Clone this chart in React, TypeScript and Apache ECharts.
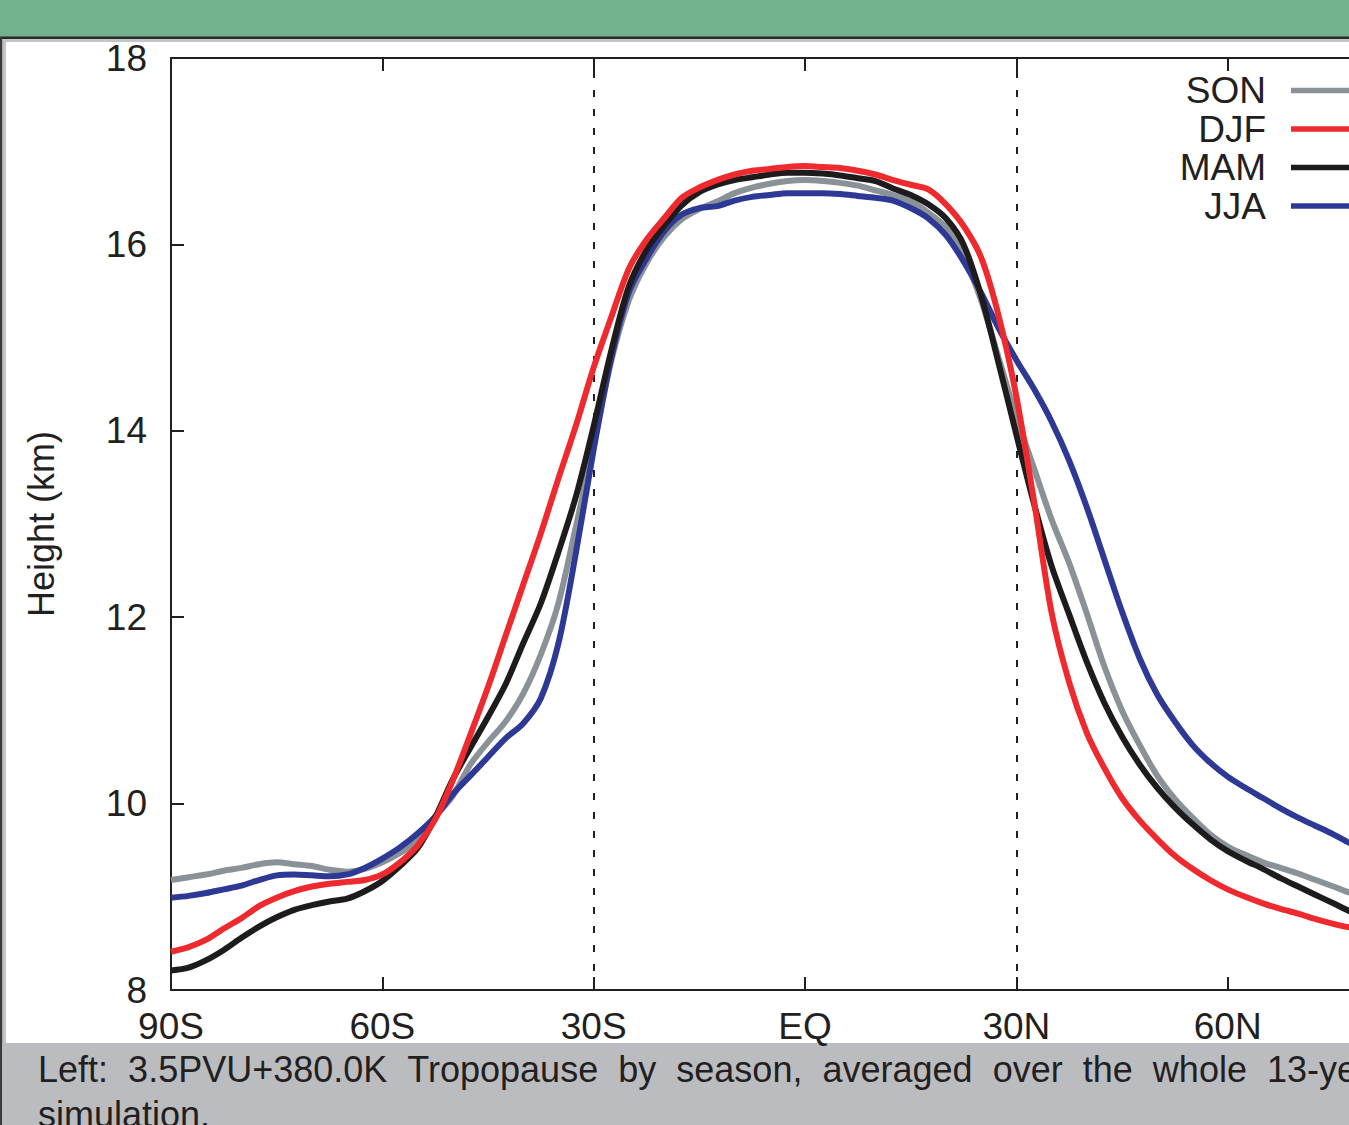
import React, { useEffect, useRef } from "react";
import * as echarts from "echarts";

// Latitude grid (degrees, negative = south)
const latitudes = [
  -90, -87.5, -85, -82.5, -80, -77.5, -75, -72.5, -70, -67.5, -65, -62.5, -60, -57.5, -55, -52.5,
  -50, -47.5, -45, -42.5, -40, -37.5, -35, -32.5, -30, -27.5, -25, -22.5, -20, -17.5, -15, -12.5,
  -10, -7.5, -5, -2.5, 0, 2.5, 5, 7.5, 10, 12.5, 15, 17.5, 20, 22.5, 25, 27.5,
  30, 32.5, 35, 37.5, 40, 42.5, 45, 47.5, 50, 52.5, 55, 57.5, 60, 62.5, 65, 67.5,
  70, 72.5, 75, 77.5, 80, 82.5, 85, 87.5, 90,
];

// Tropopause height (km) by season
const son = [
  9.18, 9.21, 9.24, 9.28, 9.31, 9.35, 9.37, 9.35, 9.33, 9.29, 9.27, 9.30, 9.37, 9.47, 9.6, 9.86,
  10.08, 10.42, 10.66, 10.88, 11.18, 11.6, 12.15, 12.98, 13.85, 14.75, 15.4, 15.8, 16.08, 16.27, 16.38, 16.46,
  16.55, 16.61, 16.65, 16.68, 16.69, 16.68, 16.66, 16.63, 16.58, 16.53, 16.46, 16.34, 16.18, 15.88, 15.4, 14.78,
  14.15, 13.6, 13.05, 12.58, 12.04, 11.47, 11.0, 10.63, 10.3, 10.05, 9.85, 9.67, 9.54, 9.45, 9.37, 9.31,
  9.25, 9.18, 9.11, 9.04, 8.98, 8.93, 8.9, 8.88, 8.87,
];
const djf = [
  8.41, 8.46, 8.54, 8.66, 8.77, 8.9, 8.99, 9.06, 9.11, 9.14, 9.16, 9.18, 9.24, 9.37, 9.55, 9.83,
  10.25, 10.74, 11.25, 11.8, 12.35, 12.9, 13.49, 14.06, 14.68, 15.22, 15.74, 16.05, 16.28, 16.5, 16.61, 16.69,
  16.75, 16.79, 16.81, 16.83, 16.84, 16.83, 16.82, 16.79, 16.75, 16.69, 16.64, 16.59, 16.43, 16.2, 15.86, 15.23,
  14.37, 13.25, 12.05, 11.3, 10.76, 10.38, 10.06, 9.82, 9.62, 9.44, 9.3, 9.18, 9.08, 9.0, 8.93, 8.87,
  8.82, 8.76, 8.71, 8.67, 8.65, 8.64, 8.64, 8.65, 8.66,
];
const mam = [
  8.21, 8.24, 8.32, 8.43, 8.56, 8.68, 8.78, 8.86, 8.91, 8.95, 8.98, 9.06, 9.17, 9.33, 9.52, 9.85,
  10.26, 10.6, 10.93, 11.28, 11.72, 12.15, 12.7, 13.3, 14.05, 14.86, 15.55, 15.94, 16.2, 16.42, 16.56, 16.64,
  16.69, 16.72, 16.75, 16.77, 16.77, 16.76, 16.74, 16.71, 16.68, 16.6, 16.53, 16.43, 16.28, 16.0, 15.45, 14.72,
  13.96, 13.22, 12.55, 12.03, 11.52, 11.08, 10.72, 10.42, 10.17, 9.96, 9.78, 9.62, 9.49, 9.39, 9.3, 9.2,
  9.11, 9.02, 8.93, 8.84, 8.78, 8.74, 8.71, 8.7, 8.7,
];
const jja = [
  8.99, 9.01, 9.04, 9.08, 9.12, 9.18, 9.23, 9.24, 9.23, 9.22, 9.24, 9.31, 9.41, 9.53, 9.68, 9.86,
  10.1, 10.3, 10.5, 10.7, 10.86, 11.13, 11.72, 12.7, 13.8, 14.78, 15.49, 15.85, 16.14, 16.32, 16.39, 16.41,
  16.47, 16.51, 16.53, 16.55, 16.55, 16.55, 16.54, 16.52, 16.5, 16.47, 16.39, 16.28, 16.1, 15.82, 15.48, 15.1,
  14.76, 14.45, 14.1, 13.68, 13.18, 12.62, 12.06, 11.56, 11.17, 10.88, 10.63, 10.44, 10.29, 10.17, 10.06, 9.95,
  9.85, 9.76, 9.67, 9.57, 9.5, 9.44, 9.4, 9.37, 9.35,
];

const seriesNames = ["SON", "DJF", "MAM", "JJA"];
const xTickLabels = ["90S", "60S", "30S", "EQ", "30N", "60N", "90N"];
const dashedLatitudes = [-30, 30];
const yAxisTitle = "Height (km)";
const captionLine1 = ["Left:", "3.5PVU+380.0K", "Tropopause", "by", "season,", "averaged", "over", "the", "whole", "13-year"];
const captionLine2 = "simulation.";

const FONT = "Liberation Sans";
const INK = "#231F20";
const COLORS: Record<string, string> = {
  SON: "#8A9197",
  DJF: "#EE2A2F",
  MAM: "#1E1B1C",
  JJA: "#2E3996",
};

export default function App() {
  const ref = useRef<HTMLDivElement>(null);

  useEffect(() => {
    if (!ref.current) return;
    const chart = echarts.init(ref.current, undefined, { renderer: "svg" });

    const valuesByName: Record<string, number[]> = { SON: son, DJF: djf, MAM: mam, JJA: jja };
    // drawing order: grey at bottom, red on top
    const drawOrder = ["SON", "JJA", "MAM", "DJF"];

    // caption word layout (justified line)
    const ctx = document.createElement("canvas").getContext("2d")!;
    ctx.font = `36px "${FONT}"`;
    const widths = captionLine1.map((w) => ctx.measureText(w).width);
    const startX = 38;
    const lastStart = 1267;
    const sumW = widths.slice(0, -1).reduce((a, b) => a + b, 0);
    const gap = (lastStart - startX - sumW) / (captionLine1.length - 1);
    let cx = startX;
    const captionEls: any[] = captionLine1.map((w, i) => {
      const el = {
        type: "text",
        x: cx,
        y: 1069,
        silent: true,
        style: { text: w, fontSize: 36, fontFamily: FONT, fill: INK, align: "left", verticalAlign: "middle" },
      };
      cx += widths[i] + gap;
      return el;
    });
    captionEls.push({
      type: "text",
      x: startX,
      y: 1114,
      silent: true,
      style: { text: captionLine2, fontSize: 36, fontFamily: FONT, fill: INK, align: "left", verticalAlign: "middle" },
    });

    const series: any[] = drawOrder.map((name, idx) => ({
      name,
      type: "line",
      data: latitudes.map((lat, i) => [lat, valuesByName[name][i]]),
      symbol: "none",
      showSymbol: false,
      smooth: 0.3,
      lineStyle: { color: COLORS[name], width: 6, cap: "butt", join: "round" },
      itemStyle: { color: COLORS[name] },
      z: 3 + idx,
      ...(idx === 0
        ? {
            markLine: {
              silent: true,
              symbol: ["none", "none"],
              label: { show: false },
              lineStyle: { type: [7, 12], color: INK, width: 2 },
              data: dashedLatitudes.map((v) => ({ xAxis: v })),
              z: 2,
            },
          }
        : {}),
    }));

    const axisLineStyle = { onZero: false, lineStyle: { color: INK, width: 2 } };
    const tickStyle = { show: true, inside: true, length: 13, lineStyle: { color: INK, width: 2 } };

    chart.setOption({
      animation: false,
      backgroundColor: "#ffffff",
      textStyle: { fontFamily: FONT },
      grid: { left: 171, top: 58, right: 61, bottom: 135, outerBoundsMode: "none", containLabel: false },
      legend: {
        data: seriesNames,
        orient: "vertical",
        align: "right",
        right: 139,
        top: 72,
        padding: 0,
        itemGap: 1.5,
        itemWidth: 70,
        itemHeight: 5.5,
        icon: "rect",
        selectedMode: false,
        textStyle: {
          fontSize: 37,
          fontFamily: FONT,
          color: INK,
          lineHeight: 36,
          padding: [0, 20, 0, 0],
        },
      },
      xAxis: [
        {
          type: "value",
          min: -90,
          max: 90,
          interval: 30,
          position: "bottom",
          axisLine: { show: true, ...axisLineStyle },
          axisTick: tickStyle,
          splitLine: { show: false },
          axisLabel: {
            fontSize: 37,
            fontFamily: FONT,
            color: INK,
            margin: 18,
            formatter: (v: number) => xTickLabels[Math.round((v + 90) / 30)],
          },
        },
        {
          type: "value",
          min: -90,
          max: 90,
          interval: 30,
          position: "top",
          axisLine: { show: true, ...axisLineStyle },
          axisTick: tickStyle,
          splitLine: { show: false },
          axisLabel: { show: false },
        },
      ],
      yAxis: [
        {
          type: "value",
          min: 8,
          max: 18,
          interval: 2,
          position: "left",
          axisLine: { show: true, ...axisLineStyle },
          axisTick: tickStyle,
          splitLine: { show: false },
          axisLabel: { fontSize: 37, fontFamily: FONT, color: INK, margin: 24 },
        },
        {
          type: "value",
          min: 8,
          max: 18,
          interval: 2,
          position: "right",
          axisLine: { show: true, ...axisLineStyle },
          axisTick: tickStyle,
          splitLine: { show: false },
          axisLabel: { show: false },
        },
      ],
      graphic: [
        { type: "rect", silent: true, z: -10, shape: { x: 0, y: 0, width: 1500, height: 37 }, style: { fill: "#72B38E" } },
        { type: "rect", silent: true, z: -10, shape: { x: 0, y: 36.5, width: 1500, height: 2.8 }, style: { fill: "#2A2A2A" } },
        { type: "rect", silent: true, z: -10, shape: { x: 0, y: 39.3, width: 1500, height: 2.7 }, style: { fill: "#C3C4C6" } },
        { type: "rect", silent: true, z: -10, shape: { x: 0, y: 39, width: 6, height: 1086 }, style: { fill: "#C3C4C6" } },
        { type: "rect", silent: true, z: -10, shape: { x: 0, y: 37, width: 2.2, height: 1088 }, style: { fill: "#3A3A3A" } },
        { type: "rect", silent: true, z: -10, shape: { x: 2.2, y: 1043, width: 1500, height: 82 }, style: { fill: "#BBBCC0" } },
        {
          type: "text",
          silent: true,
          x: 41,
          y: 524,
          rotation: Math.PI / 2,
          style: { text: yAxisTitle, fontSize: 36, fontFamily: FONT, fill: INK, align: "center", verticalAlign: "middle" },
        },
        ...captionEls,
      ],
      series,
    });

    return () => chart.dispose();
  }, []);

  return (
    <div
      style={{
        position: "fixed",
        left: 0,
        top: 0,
        width: 1349,
        height: 1125,
        overflow: "hidden",
        background: "#ffffff",
      }}
    >
      <div ref={ref} style={{ width: 1500, height: 1125 }} />
    </div>
  );
}
